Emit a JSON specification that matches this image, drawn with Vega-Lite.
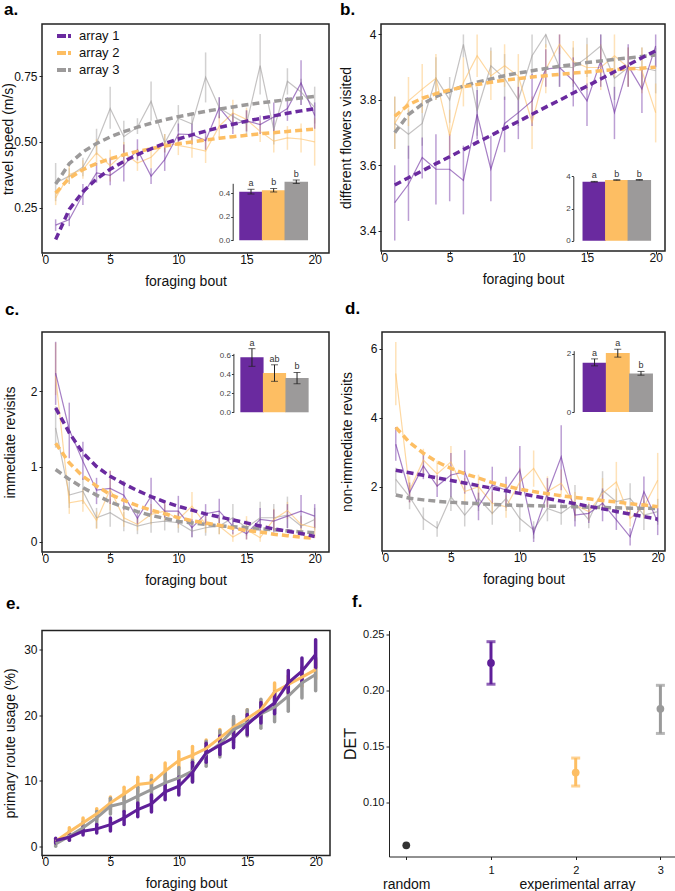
{
"$schema": "https://vega.github.io/schema/vega-lite/v6.json",
"background": "white",
"padding": {"left": 0, "top": 0, "right": 0, "bottom": 0},
"config": {
  "font": "Liberation Sans",
  "view": {"stroke": "#222", "strokeWidth": 1.5},
  "axis": {"grid": false, "domain": false, "tickSize": 3, "tickColor": "#222", "tickWidth": 1, "labelFontSize": 12, "labelColor": "#111", "titleFontSize": 14, "titleFontWeight": "normal", "titleColor": "#111", "titlePadding": 7},
  "axisX": {"labelPadding": -2, "titlePadding": 9},
  "axisY": {"labelPadding": 2},
  "title": {"anchor": "start"}
},
"resolve": {"scale": {"color": "independent"}},
"spacing": 4.5,
"vconcat": [
{
"spacing": 9,
"resolve": {"scale": {"color": "independent"}},
"vconcat": [
{
"hconcat": [
{
 "width": 287, "height": 229,
 "title": {"text": "a.", "anchor": "start", "frame": "group", "dx": -38, "fontSize": 17, "fontWeight": "bold", "offset": 5},
 "layer": [
  {
   "data": {"values": [
{"b":1,"g":"array 3","m":0.344,"lo":0.275,"hi":0.42,"f":0.34},
{"b":2,"g":"array 3","m":0.37,"lo":0.34,"hi":0.40,"f":0.417},
{"b":3,"g":"array 3","m":0.405,"lo":0.37,"hi":0.44,"f":0.462},
{"b":4,"g":"array 3","m":0.496,"lo":0.45,"hi":0.55,"f":0.494},
{"b":5,"g":"array 3","m":0.627,"lo":0.55,"hi":0.71,"f":0.519},
{"b":6,"g":"array 3","m":0.52,"lo":0.46,"hi":0.58,"f":0.539},
{"b":7,"g":"array 3","m":0.556,"lo":0.53,"hi":0.59,"f":0.556},
{"b":8,"g":"array 3","m":0.654,"lo":0.58,"hi":0.73,"f":0.571},
{"b":9,"g":"array 3","m":0.496,"lo":0.46,"hi":0.53,"f":0.584},
{"b":10,"g":"array 3","m":0.59,"lo":0.54,"hi":0.64,"f":0.596},
{"b":11,"g":"array 3","m":0.568,"lo":0.53,"hi":0.61,"f":0.606},
{"b":12,"g":"array 3","m":0.746,"lo":0.65,"hi":0.84,"f":0.616},
{"b":13,"g":"array 3","m":0.63,"lo":0.59,"hi":0.67,"f":0.625},
{"b":14,"g":"array 3","m":0.597,"lo":0.55,"hi":0.64,"f":0.633},
{"b":15,"g":"array 3","m":0.568,"lo":0.52,"hi":0.62,"f":0.641},
{"b":16,"g":"array 3","m":0.79,"lo":0.68,"hi":0.91,"f":0.648},
{"b":17,"g":"array 3","m":0.547,"lo":0.49,"hi":0.60,"f":0.654},
{"b":18,"g":"array 3","m":0.73,"lo":0.68,"hi":0.78,"f":0.661},
{"b":19,"g":"array 3","m":0.69,"lo":0.64,"hi":0.74,"f":0.667},
{"b":20,"g":"array 3","m":0.63,"lo":0.57,"hi":0.71,"f":0.673},
{"b":1,"g":"array 2","m":0.287,"lo":0.26,"hi":0.31,"f":0.306},
{"b":2,"g":"array 2","m":0.376,"lo":0.34,"hi":0.41,"f":0.362},
{"b":3,"g":"array 2","m":0.395,"lo":0.36,"hi":0.43,"f":0.395},
{"b":4,"g":"array 2","m":0.458,"lo":0.41,"hi":0.51,"f":0.418},
{"b":5,"g":"array 2","m":0.41,"lo":0.35,"hi":0.47,"f":0.436},
{"b":6,"g":"array 2","m":0.458,"lo":0.41,"hi":0.50,"f":0.451},
{"b":7,"g":"array 2","m":0.42,"lo":0.39,"hi":0.46,"f":0.464},
{"b":8,"g":"array 2","m":0.442,"lo":0.40,"hi":0.48,"f":0.474},
{"b":9,"g":"array 2","m":0.496,"lo":0.46,"hi":0.53,"f":0.484},
{"b":10,"g":"array 2","m":0.487,"lo":0.45,"hi":0.53,"f":0.493},
{"b":11,"g":"array 2","m":0.477,"lo":0.44,"hi":0.52,"f":0.50},
{"b":12,"g":"array 2","m":0.465,"lo":0.42,"hi":0.52,"f":0.507},
{"b":13,"g":"array 2","m":0.56,"lo":0.52,"hi":0.60,"f":0.514},
{"b":14,"g":"array 2","m":0.61,"lo":0.56,"hi":0.66,"f":0.52},
{"b":15,"g":"array 2","m":0.585,"lo":0.54,"hi":0.63,"f":0.525},
{"b":16,"g":"array 2","m":0.54,"lo":0.50,"hi":0.58,"f":0.531},
{"b":17,"g":"array 2","m":0.503,"lo":0.46,"hi":0.55,"f":0.535},
{"b":18,"g":"array 2","m":0.515,"lo":0.47,"hi":0.56,"f":0.54},
{"b":19,"g":"array 2","m":0.511,"lo":0.46,"hi":0.57,"f":0.544},
{"b":20,"g":"array 2","m":0.50,"lo":0.41,"hi":0.59,"f":0.549},
{"b":1,"g":"array 1","m":0.184,"lo":0.162,"hi":0.206,"f":0.129},
{"b":2,"g":"array 1","m":0.205,"lo":0.18,"hi":0.23,"f":0.244},
{"b":3,"g":"array 1","m":0.30,"lo":0.26,"hi":0.34,"f":0.311},
{"b":4,"g":"array 1","m":0.382,"lo":0.345,"hi":0.42,"f":0.359},
{"b":5,"g":"array 1","m":0.373,"lo":0.335,"hi":0.44,"f":0.396},
{"b":6,"g":"array 1","m":0.41,"lo":0.35,"hi":0.49,"f":0.426},
{"b":7,"g":"array 1","m":0.47,"lo":0.43,"hi":0.51,"f":0.452},
{"b":8,"g":"array 1","m":0.37,"lo":0.34,"hi":0.40,"f":0.474},
{"b":9,"g":"array 1","m":0.433,"lo":0.39,"hi":0.48,"f":0.494},
{"b":10,"g":"array 1","m":0.53,"lo":0.49,"hi":0.57,"f":0.511},
{"b":11,"g":"array 1","m":0.528,"lo":0.49,"hi":0.57,"f":0.527},
{"b":12,"g":"array 1","m":0.505,"lo":0.47,"hi":0.54,"f":0.541},
{"b":13,"g":"array 1","m":0.63,"lo":0.59,"hi":0.67,"f":0.555},
{"b":14,"g":"array 1","m":0.568,"lo":0.53,"hi":0.61,"f":0.567},
{"b":15,"g":"array 1","m":0.58,"lo":0.54,"hi":0.62,"f":0.579},
{"b":16,"g":"array 1","m":0.566,"lo":0.53,"hi":0.60,"f":0.589},
{"b":17,"g":"array 1","m":0.595,"lo":0.54,"hi":0.65,"f":0.599},
{"b":18,"g":"array 1","m":0.627,"lo":0.58,"hi":0.67,"f":0.609},
{"b":19,"g":"array 1","m":0.724,"lo":0.64,"hi":0.81,"f":0.618},
{"b":20,"g":"array 1","m":0.60,"lo":0.55,"hi":0.65,"f":0.626}
   ]},
   "encoding": {
     "x": {"field": "b", "type": "quantitative", "scale": {"domain": [0, 21.05], "nice": false, "zero": false}, "axis": {"values": [0,5,10,15,20], "title": "foraging bout"}},
     "color": {"field": "g", "type": "nominal", "scale": {"domain": ["array 1","array 2","array 3"], "range": ["#6a2a9f","#fdbe63","#9c9a9a"]}, "legend": {"title": null, "orient": "none", "legendX": 13, "legendY": 3, "symbolType": "stroke", "symbolStrokeWidth": 4, "symbolSize": 196, "symbolDash": [9, 2], "symbolOpacity": 1, "labelFontSize": 13, "labelOffset": 6, "rowPadding": -2.5, "padding": 0, "labelColor": "#111"}}
   },
   "layer": [
     {"mark": {"type": "rule", "opacity": 0.45, "strokeWidth": 1.5}, "encoding": {"y": {"field": "lo", "type": "quantitative", "scale": {"domain": [0.078, 0.948], "nice": false, "zero": false}, "axis": {"values": [0.25,0.5,0.75], "format": ".2f", "title": "travel speed (m/s)", "titlePadding": -2}}, "y2": {"field": "hi"}}},
     {"mark": {"type": "line", "opacity": 0.6, "strokeWidth": 1.2}, "encoding": {"y": {"field": "m", "type": "quantitative", "axis": {"values": [0.25,0.5,0.75], "format": ".2f", "title": "travel speed (m/s)", "titlePadding": -2}}}},
     {"mark": {"type": "line", "strokeDash": [7,4], "strokeWidth": 3.5}, "encoding": {"y": {"field": "f", "type": "quantitative", "axis": {"values": [0.25,0.5,0.75], "format": ".2f", "title": "travel speed (m/s)", "titlePadding": -2}}}}
   ]
  },
  {
   "data": {"values": [
     {"g":"array 1","i":1,"m":0.414,"lo":0.394,"hi":0.434,"t":"a"},
     {"g":"array 2","i":2,"m":0.426,"lo":0.411,"hi":0.441,"t":"b"},
     {"g":"array 3","i":3,"m":0.499,"lo":0.484,"hi":0.514,"t":"b"}]},
   "encoding": {"x": {"field": "i", "type": "quantitative", "scale": {"domain": [0.5,3.5], "range": [192.7,270.6], "nice": false, "zero": false}, "axis": null}},
   "layer": [
     {"data": {"values": [{}]}, "mark": {"type": "rect", "fill": "white", "stroke": "#222", "strokeWidth": 1.5},
      "encoding": {"x": {"datum": -0.375, "type": "quantitative", "axis": null}, "x2": {"datum": 3.63},
        "y": {"datum": -0.057, "type": "quantitative", "scale": {"domain": [0, 0.485], "range": [216.3, 159.3], "nice": false, "zero": false}, "axis": {"orient": "left", "offset": -190.7, "values": [0,0.2,0.4], "format": ".1f", "title": null, "labelFontSize": 8, "tickSize": 2, "labelPadding": 1, "domain": true, "domainColor": "#333", "domainWidth": 1, "tickColor": "#333", "labelColor": "#444"}},
        "y2": {"datum": 0.641}}},
     {"mark": {"type": "bar", "size": 23.5}, "encoding": {"y": {"field": "m", "type": "quantitative", "axis": {"orient": "left", "offset": -190.7, "values": [0,0.2,0.4], "format": ".1f", "title": null, "labelFontSize": 8, "tickSize": 2, "labelPadding": 1, "domain": true, "domainColor": "#333", "domainWidth": 1, "tickColor": "#333", "labelColor": "#444"}}, "y2": {"datum": 0}, "color": {"field": "g", "type": "nominal", "legend": {"title": null, "orient": "none", "legendX": 13, "legendY": 3, "symbolType": "stroke", "symbolStrokeWidth": 4, "symbolSize": 196, "symbolDash": [9, 2], "symbolOpacity": 1, "labelFontSize": 13, "labelOffset": 6, "rowPadding": -2.5, "padding": 0, "labelColor": "#111"}}}},
     {"mark": {"type": "errorbar", "ticks": true, "size": 7, "thickness": 1, "color": "#222"}, "encoding": {"y": {"field": "lo", "type": "quantitative", "axis": {"orient": "left", "offset": -190.7, "values": [0,0.2,0.4], "format": ".1f", "title": null, "labelFontSize": 8, "tickSize": 2, "labelPadding": 1, "domain": true, "domainColor": "#333", "domainWidth": 1, "tickColor": "#333", "labelColor": "#444"}}, "y2": {"field": "hi"}}},
     {"mark": {"type": "text", "fontSize": 9, "color": "#333", "baseline": "bottom", "dy": -1}, "encoding": {"y": {"field": "hi", "type": "quantitative", "axis": {"orient": "left", "offset": -190.7, "values": [0,0.2,0.4], "format": ".1f", "title": null, "labelFontSize": 8, "tickSize": 2, "labelPadding": 1, "domain": true, "domainColor": "#333", "domainWidth": 1, "tickColor": "#333", "labelColor": "#444"}}, "text": {"field": "t"}}}
   ]
  }
 ],
 "resolve": {"scale": {"x": "independent", "y": "independent"}}
},
{
 "width": 284, "height": 227,
 "title": {"text": "b.", "anchor": "start", "frame": "group", "dx": -41, "fontSize": 17, "fontWeight": "bold", "offset": 5},
 "layer": [
  {
   "data": {"values": [
{"b":1,"g":"array 3","m":3.728,"lo":3.65,"hi":3.81,"f":3.70},
{"b":2,"g":"array 3","m":3.695,"lo":3.62,"hi":3.77,"f":3.755},
{"b":3,"g":"array 3","m":3.728,"lo":3.66,"hi":3.80,"f":3.787},
{"b":4,"g":"array 3","m":3.866,"lo":3.80,"hi":3.93,"f":3.81},
{"b":5,"g":"array 3","m":3.80,"lo":3.73,"hi":3.87,"f":3.827},
{"b":6,"g":"array 3","m":3.97,"lo":3.93,"hi":4.0,"f":3.842},
{"b":7,"g":"array 3","m":3.766,"lo":3.69,"hi":3.84,"f":3.854},
{"b":8,"g":"array 3","m":3.904,"lo":3.85,"hi":3.96,"f":3.864},
{"b":9,"g":"array 3","m":3.866,"lo":3.80,"hi":3.94,"f":3.874},
{"b":10,"g":"array 3","m":3.80,"lo":3.72,"hi":3.87,"f":3.882},
{"b":11,"g":"array 3","m":3.935,"lo":3.87,"hi":4.0,"f":3.889},
{"b":12,"g":"array 3","m":4.0,"lo":3.96,"hi":4.0,"f":3.896},
{"b":13,"g":"array 3","m":3.899,"lo":3.84,"hi":3.96,"f":3.903},
{"b":14,"g":"array 3","m":3.899,"lo":3.84,"hi":3.96,"f":3.908},
{"b":15,"g":"array 3","m":3.93,"lo":3.87,"hi":3.99,"f":3.914},
{"b":16,"g":"array 3","m":3.965,"lo":3.92,"hi":4.0,"f":3.919},
{"b":17,"g":"array 3","m":3.866,"lo":3.80,"hi":3.93,"f":3.924},
{"b":18,"g":"array 3","m":3.899,"lo":3.84,"hi":3.96,"f":3.928},
{"b":19,"g":"array 3","m":3.899,"lo":3.84,"hi":3.96,"f":3.933},
{"b":20,"g":"array 3","m":3.889,"lo":3.82,"hi":3.96,"f":3.937},
{"b":1,"g":"array 2","m":3.728,"lo":3.65,"hi":3.81,"f":3.75},
{"b":2,"g":"array 2","m":3.797,"lo":3.72,"hi":3.87,"f":3.785},
{"b":3,"g":"array 2","m":3.833,"lo":3.76,"hi":3.91,"f":3.805},
{"b":4,"g":"array 2","m":3.866,"lo":3.80,"hi":3.94,"f":3.819},
{"b":5,"g":"array 2","m":3.69,"lo":3.62,"hi":3.77,"f":3.83},
{"b":6,"g":"array 2","m":3.853,"lo":3.78,"hi":3.93,"f":3.84},
{"b":7,"g":"array 2","m":3.935,"lo":3.87,"hi":4.0,"f":3.847},
{"b":8,"g":"array 2","m":3.873,"lo":3.80,"hi":3.95,"f":3.854},
{"b":9,"g":"array 2","m":3.904,"lo":3.84,"hi":3.97,"f":3.86},
{"b":10,"g":"array 2","m":3.873,"lo":3.80,"hi":3.94,"f":3.865},
{"b":11,"g":"array 2","m":3.731,"lo":3.65,"hi":3.81,"f":3.87},
{"b":12,"g":"array 2","m":3.894,"lo":3.82,"hi":3.97,"f":3.874},
{"b":13,"g":"array 2","m":3.97,"lo":3.94,"hi":4.0,"f":3.878},
{"b":14,"g":"array 2","m":3.917,"lo":3.85,"hi":3.98,"f":3.882},
{"b":15,"g":"array 2","m":3.899,"lo":3.83,"hi":3.97,"f":3.885},
{"b":16,"g":"array 2","m":3.899,"lo":3.83,"hi":3.97,"f":3.889},
{"b":17,"g":"array 2","m":3.935,"lo":3.87,"hi":4.0,"f":3.892},
{"b":18,"g":"array 2","m":3.899,"lo":3.84,"hi":3.96,"f":3.895},
{"b":19,"g":"array 2","m":3.889,"lo":3.82,"hi":3.96,"f":3.897},
{"b":20,"g":"array 2","m":3.761,"lo":3.67,"hi":3.85,"f":3.90},
{"b":1,"g":"array 1","m":3.486,"lo":3.37,"hi":3.60,"f":3.54},
{"b":2,"g":"array 1","m":3.542,"lo":3.43,"hi":3.66,"f":3.562},
{"b":3,"g":"array 1","m":3.624,"lo":3.56,"hi":3.685,"f":3.583},
{"b":4,"g":"array 1","m":3.588,"lo":3.48,"hi":3.695,"f":3.605},
{"b":5,"g":"array 1","m":3.588,"lo":3.49,"hi":3.695,"f":3.626},
{"b":6,"g":"array 1","m":3.554,"lo":3.45,"hi":3.66,"f":3.648},
{"b":7,"g":"array 1","m":3.756,"lo":3.68,"hi":3.83,"f":3.67},
{"b":8,"g":"array 1","m":3.588,"lo":3.49,"hi":3.69,"f":3.691},
{"b":9,"g":"array 1","m":3.728,"lo":3.64,"hi":3.81,"f":3.713},
{"b":10,"g":"array 1","m":3.761,"lo":3.68,"hi":3.84,"f":3.734},
{"b":11,"g":"array 1","m":3.797,"lo":3.72,"hi":3.88,"f":3.756},
{"b":12,"g":"array 1","m":3.894,"lo":3.84,"hi":3.955,"f":3.778},
{"b":13,"g":"array 1","m":3.899,"lo":3.84,"hi":4.0,"f":3.799},
{"b":14,"g":"array 1","m":3.858,"lo":3.78,"hi":3.93,"f":3.821},
{"b":15,"g":"array 1","m":3.797,"lo":3.72,"hi":3.85,"f":3.842},
{"b":16,"g":"array 1","m":3.919,"lo":3.84,"hi":4.0,"f":3.864},
{"b":17,"g":"array 1","m":3.761,"lo":3.68,"hi":3.84,"f":3.886},
{"b":18,"g":"array 1","m":3.904,"lo":3.84,"hi":3.97,"f":3.907},
{"b":19,"g":"array 1","m":3.833,"lo":3.76,"hi":3.90,"f":3.929},
{"b":20,"g":"array 1","m":3.965,"lo":3.90,"hi":4.0,"f":3.95}
   ]},
   "encoding": {
     "x": {"field": "b", "type": "quantitative", "scale": {"domain": [0, 20.68], "nice": false, "zero": false}, "axis": {"values": [0,5,10,15,20], "title": "foraging bout"}},
     "color": {"field": "g", "type": "nominal", "scale": {"domain": ["array 1","array 2","array 3"], "range": ["#6a2a9f","#fdbe63","#9c9a9a"]}, "legend": null}
   },
   "layer": [
     {"mark": {"type": "rule", "opacity": 0.45, "strokeWidth": 1.5}, "encoding": {"y": {"field": "lo", "type": "quantitative", "scale": {"domain": [3.338, 4.032], "nice": false, "zero": false}, "axis": {"values": [3.4,3.6,3.8,4], "format": "~g", "title": "different flowers visited", "titlePadding": 6}}, "y2": {"field": "hi"}}},
     {"mark": {"type": "line", "opacity": 0.6, "strokeWidth": 1.2}, "encoding": {"y": {"field": "m", "type": "quantitative", "axis": {"values": [3.4,3.6,3.8,4], "format": "~g", "title": "different flowers visited", "titlePadding": 6}}}},
     {"mark": {"type": "line", "strokeDash": [7,4], "strokeWidth": 3.5}, "encoding": {"y": {"field": "f", "type": "quantitative", "axis": {"values": [3.4,3.6,3.8,4], "format": "~g", "title": "different flowers visited", "titlePadding": 6}}}}
   ]
  },
  {
   "data": {"values": [
     {"g":"array 1","i":1,"m":3.67,"lo":3.65,"hi":3.69,"t":"a"},
     {"g":"array 2","i":2,"m":3.775,"lo":3.755,"hi":3.795,"t":"b"},
     {"g":"array 3","i":3,"m":3.78,"lo":3.76,"hi":3.80,"t":"b"}]},
   "encoding": {"x": {"field": "i", "type": "quantitative", "scale": {"domain": [0.5,3.5], "range": [197.0,274.6], "nice": false, "zero": false}, "axis": null}},
   "layer": [
     {"data": {"values": [{}]}, "mark": {"type": "rect", "fill": "white", "stroke": "#222", "strokeWidth": 1.5},
      "encoding": {"x": {"datum": -0.416, "type": "quantitative", "axis": null}, "x2": {"datum": 3.604},
        "y": {"datum": -0.417, "type": "quantitative", "scale": {"domain": [0, 4], "range": [216.7, 152.4], "nice": false, "zero": false}, "axis": {"orient": "left", "offset": -192.3, "values": [0,2,4], "format": "d", "title": null, "labelFontSize": 8, "tickSize": 2, "labelPadding": 1, "domain": true, "domainColor": "#333", "domainWidth": 1, "tickColor": "#333", "labelColor": "#444"}},
        "y2": {"datum": 4.664}}},
     {"mark": {"type": "bar", "size": 23.5}, "encoding": {"y": {"field": "m", "type": "quantitative", "axis": {"orient": "left", "offset": -192.3, "values": [0,2,4], "format": "d", "title": null, "labelFontSize": 8, "tickSize": 2, "labelPadding": 1, "domain": true, "domainColor": "#333", "domainWidth": 1, "tickColor": "#333", "labelColor": "#444"}}, "y2": {"datum": 0}, "color": {"field": "g", "type": "nominal", "legend": null}}},
     {"mark": {"type": "errorbar", "ticks": true, "size": 7, "thickness": 1, "color": "#222"}, "encoding": {"y": {"field": "lo", "type": "quantitative", "axis": {"orient": "left", "offset": -192.3, "values": [0,2,4], "format": "d", "title": null, "labelFontSize": 8, "tickSize": 2, "labelPadding": 1, "domain": true, "domainColor": "#333", "domainWidth": 1, "tickColor": "#333", "labelColor": "#444"}}, "y2": {"field": "hi"}}},
     {"mark": {"type": "text", "fontSize": 9, "color": "#333", "baseline": "bottom", "dy": -1}, "encoding": {"y": {"field": "hi", "type": "quantitative", "axis": {"orient": "left", "offset": -192.3, "values": [0,2,4], "format": "d", "title": null, "labelFontSize": 8, "tickSize": 2, "labelPadding": 1, "domain": true, "domainColor": "#333", "domainWidth": 1, "tickColor": "#333", "labelColor": "#444"}}, "text": {"field": "t"}}}
   ]
  }
 ],
 "resolve": {"scale": {"x": "independent", "y": "independent"}}
}
],
"spacing": 8,
"resolve": {"scale": {"color": "independent"}}
},
{
"hconcat": [
{
 "width": 287, "height": 220,
 "title": {"text": "c.", "anchor": "start", "frame": "group", "dx": -37, "fontSize": 17, "fontWeight": "bold", "offset": 13.5},
 "layer": [
  {
   "data": {"values": [
{"b":1,"g":"array 3","m":1.513,"lo":1.25,"hi":1.80,"f":0.96},
{"b":2,"g":"array 3","m":0.62,"lo":0.45,"hi":0.80,"f":0.83},
{"b":3,"g":"array 3","m":0.673,"lo":0.50,"hi":0.85,"f":0.72},
{"b":4,"g":"array 3","m":0.319,"lo":0.18,"hi":0.45,"f":0.62},
{"b":5,"g":"array 3","m":0.385,"lo":0.20,"hi":0.57,"f":0.53},
{"b":6,"g":"array 3","m":0.274,"lo":0.14,"hi":0.40,"f":0.46},
{"b":7,"g":"array 3","m":0.208,"lo":0.10,"hi":0.31,"f":0.40},
{"b":8,"g":"array 3","m":0.252,"lo":0.12,"hi":0.39,"f":0.35},
{"b":9,"g":"array 3","m":0.274,"lo":0.15,"hi":0.40,"f":0.31},
{"b":10,"g":"array 3","m":0.252,"lo":0.12,"hi":0.38,"f":0.27},
{"b":11,"g":"array 3","m":0.142,"lo":0.06,"hi":0.23,"f":0.25},
{"b":12,"g":"array 3","m":0.186,"lo":0.08,"hi":0.30,"f":0.23},
{"b":13,"g":"array 3","m":0.208,"lo":0.10,"hi":0.32,"f":0.21},
{"b":14,"g":"array 3","m":0.319,"lo":0.14,"hi":0.50,"f":0.20},
{"b":15,"g":"array 3","m":0.186,"lo":0.08,"hi":0.29,"f":0.186},
{"b":16,"g":"array 3","m":0.319,"lo":0.15,"hi":0.53,"f":0.17},
{"b":17,"g":"array 3","m":0.319,"lo":0.15,"hi":0.50,"f":0.16},
{"b":18,"g":"array 3","m":0.354,"lo":0.18,"hi":0.60,"f":0.145},
{"b":19,"g":"array 3","m":0.208,"lo":0.08,"hi":0.35,"f":0.13},
{"b":20,"g":"array 3","m":0.296,"lo":0.15,"hi":0.45,"f":0.12},
{"b":1,"g":"array 2","m":2.20,"lo":1.95,"hi":2.65,"f":1.31},
{"b":2,"g":"array 2","m":0.518,"lo":0.37,"hi":0.68,"f":1.05},
{"b":3,"g":"array 2","m":0.549,"lo":0.40,"hi":0.70,"f":0.87},
{"b":4,"g":"array 2","m":0.283,"lo":0.17,"hi":0.40,"f":0.74},
{"b":5,"g":"array 2","m":0.695,"lo":0.42,"hi":0.95,"f":0.63},
{"b":6,"g":"array 2","m":0.319,"lo":0.20,"hi":0.44,"f":0.55},
{"b":7,"g":"array 2","m":0.23,"lo":0.15,"hi":0.31,"f":0.48},
{"b":8,"g":"array 2","m":0.363,"lo":0.23,"hi":0.50,"f":0.42},
{"b":9,"g":"array 2","m":0.407,"lo":0.28,"hi":0.53,"f":0.37},
{"b":10,"g":"array 2","m":0.296,"lo":0.18,"hi":0.41,"f":0.32},
{"b":11,"g":"array 2","m":0.473,"lo":0.23,"hi":0.66,"f":0.28},
{"b":12,"g":"array 2","m":0.23,"lo":0.12,"hi":0.34,"f":0.25},
{"b":13,"g":"array 2","m":0.208,"lo":0.10,"hi":0.32,"f":0.22},
{"b":14,"g":"array 2","m":0.062,"lo":0.0,"hi":0.13,"f":0.18},
{"b":15,"g":"array 2","m":0.164,"lo":0.03,"hi":0.34,"f":0.15},
{"b":16,"g":"array 2","m":0.053,"lo":0.0,"hi":0.14,"f":0.13},
{"b":17,"g":"array 2","m":0.296,"lo":0.15,"hi":0.44,"f":0.10},
{"b":18,"g":"array 2","m":0.416,"lo":0.30,"hi":0.53,"f":0.08},
{"b":19,"g":"array 2","m":0.23,"lo":0.12,"hi":0.34,"f":0.06},
{"b":20,"g":"array 2","m":0.186,"lo":0.05,"hi":0.32,"f":0.044},
{"b":1,"g":"array 1","m":2.243,"lo":1.82,"hi":2.66,"f":1.78},
{"b":2,"g":"array 1","m":1.49,"lo":1.11,"hi":1.85,"f":1.45},
{"b":3,"g":"array 1","m":1.07,"lo":0.82,"hi":1.33,"f":1.18},
{"b":4,"g":"array 1","m":0.686,"lo":0.50,"hi":0.85,"f":1.0},
{"b":5,"g":"array 1","m":0.708,"lo":0.50,"hi":0.94,"f":0.87},
{"b":6,"g":"array 1","m":0.62,"lo":0.42,"hi":0.81,"f":0.77},
{"b":7,"g":"array 1","m":0.31,"lo":0.23,"hi":0.40,"f":0.68},
{"b":8,"g":"array 1","m":0.606,"lo":0.36,"hi":0.85,"f":0.60},
{"b":9,"g":"array 1","m":0.407,"lo":0.32,"hi":0.50,"f":0.53},
{"b":10,"g":"array 1","m":0.407,"lo":0.23,"hi":0.61,"f":0.47},
{"b":11,"g":"array 1","m":0.186,"lo":0.06,"hi":0.30,"f":0.42},
{"b":12,"g":"array 1","m":0.372,"lo":0.22,"hi":0.50,"f":0.37},
{"b":13,"g":"array 1","m":0.407,"lo":0.25,"hi":0.57,"f":0.33},
{"b":14,"g":"array 1","m":0.208,"lo":0.10,"hi":0.32,"f":0.29},
{"b":15,"g":"array 1","m":0.106,"lo":0.03,"hi":0.18,"f":0.25},
{"b":16,"g":"array 1","m":0.296,"lo":0.14,"hi":0.45,"f":0.21},
{"b":17,"g":"array 1","m":0.274,"lo":0.12,"hi":0.43,"f":0.17},
{"b":18,"g":"array 1","m":0.341,"lo":0.18,"hi":0.50,"f":0.14},
{"b":19,"g":"array 1","m":0.407,"lo":0.18,"hi":0.62,"f":0.11},
{"b":20,"g":"array 1","m":0.341,"lo":0.18,"hi":0.50,"f":0.07}
   ]},
   "encoding": {
     "x": {"field": "b", "type": "quantitative", "scale": {"domain": [0, 21.05], "nice": false, "zero": false}, "axis": {"values": [0,5,10,15,20], "title": "foraging bout"}},
     "color": {"field": "g", "type": "nominal", "scale": {"domain": ["array 1","array 2","array 3"], "range": ["#6a2a9f","#fdbe63","#9c9a9a"]}, "legend": null}
   },
   "layer": [
     {"mark": {"type": "rule", "opacity": 0.45, "strokeWidth": 1.5}, "encoding": {"y": {"field": "lo", "type": "quantitative", "scale": {"domain": [-0.137, 2.79], "nice": false, "zero": false}, "axis": {"values": [0,1,2], "title": "immediate revisits", "titlePadding": 13}}, "y2": {"field": "hi"}}},
     {"mark": {"type": "line", "opacity": 0.6, "strokeWidth": 1.2}, "encoding": {"y": {"field": "m", "type": "quantitative", "axis": {"values": [0,1,2], "title": "immediate revisits", "titlePadding": 13}}}},
     {"mark": {"type": "line", "strokeDash": [7,4], "strokeWidth": 3.5}, "encoding": {"y": {"field": "f", "type": "quantitative", "axis": {"values": [0,1,2], "title": "immediate revisits", "titlePadding": 13}}}}
   ]
  },
  {
   "data": {"values": [
     {"g":"array 1","i":1,"m":0.579,"lo":0.484,"hi":0.67,"t":"a"},
     {"g":"array 2","i":2,"m":0.414,"lo":0.326,"hi":0.50,"t":"ab"},
     {"g":"array 3","i":3,"m":0.361,"lo":0.30,"hi":0.42,"t":"b"}]},
   "encoding": {"x": {"field": "i", "type": "quantitative", "scale": {"domain": [0.5,3.5], "range": [193.7,271.3], "nice": false, "zero": false}, "axis": null}},
   "layer": [
     {"data": {"values": [{}]}, "mark": {"type": "rect", "fill": "white", "stroke": "#222", "strokeWidth": 1.5},
      "encoding": {"x": {"datum": -0.416, "type": "quantitative", "axis": null}, "x2": {"datum": 3.643},
        "y": {"datum": -0.066, "type": "quantitative", "scale": {"domain": [0, 0.62], "range": [80.3, 21.4], "nice": false, "zero": false}, "axis": {"orient": "left", "offset": -191.4, "values": [0,0.2,0.4,0.6], "format": ".1f", "title": null, "labelFontSize": 8, "tickSize": 2, "labelPadding": 1, "domain": true, "domainColor": "#333", "domainWidth": 1, "tickColor": "#333", "labelColor": "#444"}},
        "y2": {"datum": 0.789}}},
     {"mark": {"type": "bar", "size": 23.2}, "encoding": {"y": {"field": "m", "type": "quantitative", "axis": {"orient": "left", "offset": -191.4, "values": [0,0.2,0.4,0.6], "format": ".1f", "title": null, "labelFontSize": 8, "tickSize": 2, "labelPadding": 1, "domain": true, "domainColor": "#333", "domainWidth": 1, "tickColor": "#333", "labelColor": "#444"}}, "y2": {"datum": 0}, "color": {"field": "g", "type": "nominal", "legend": null}}},
     {"mark": {"type": "errorbar", "ticks": true, "size": 7, "thickness": 1, "color": "#222"}, "encoding": {"y": {"field": "lo", "type": "quantitative", "axis": {"orient": "left", "offset": -191.4, "values": [0,0.2,0.4,0.6], "format": ".1f", "title": null, "labelFontSize": 8, "tickSize": 2, "labelPadding": 1, "domain": true, "domainColor": "#333", "domainWidth": 1, "tickColor": "#333", "labelColor": "#444"}}, "y2": {"field": "hi"}}},
     {"mark": {"type": "text", "fontSize": 9, "color": "#333", "baseline": "bottom", "dy": -1}, "encoding": {"y": {"field": "hi", "type": "quantitative", "axis": {"orient": "left", "offset": -191.4, "values": [0,0.2,0.4,0.6], "format": ".1f", "title": null, "labelFontSize": 8, "tickSize": 2, "labelPadding": 1, "domain": true, "domainColor": "#333", "domainWidth": 1, "tickColor": "#333", "labelColor": "#444"}}, "text": {"field": "t"}}}
   ]
  }
 ],
 "resolve": {"scale": {"x": "independent", "y": "independent"}}
},
{
 "width": 283, "height": 219,
 "title": {"text": "d.", "anchor": "start", "frame": "group", "dx": -37, "fontSize": 17, "fontWeight": "bold", "offset": 14.5},
 "layer": [
  {
   "data": {"values": [
{"b":1,"g":"array 3","m":2.21,"lo":1.80,"hi":2.55,"f":1.76},
{"b":2,"g":"array 3","m":1.71,"lo":1.35,"hi":2.05,"f":1.67},
{"b":3,"g":"array 3","m":1.08,"lo":0.75,"hi":1.40,"f":1.62},
{"b":4,"g":"array 3","m":0.80,"lo":0.55,"hi":1.00,"f":1.58},
{"b":5,"g":"array 3","m":1.71,"lo":1.30,"hi":2.10,"f":1.55},
{"b":6,"g":"array 3","m":1.18,"lo":0.85,"hi":1.50,"f":1.53},
{"b":7,"g":"array 3","m":1.66,"lo":1.30,"hi":2.00,"f":1.51},
{"b":8,"g":"array 3","m":1.23,"lo":0.90,"hi":1.55,"f":1.49},
{"b":9,"g":"array 3","m":1.66,"lo":1.30,"hi":2.00,"f":1.47},
{"b":10,"g":"array 3","m":1.08,"lo":0.70,"hi":1.45,"f":1.46},
{"b":11,"g":"array 3","m":0.75,"lo":0.50,"hi":1.00,"f":1.45},
{"b":12,"g":"array 3","m":1.37,"lo":1.00,"hi":1.75,"f":1.44},
{"b":13,"g":"array 3","m":1.23,"lo":0.90,"hi":1.55,"f":1.43},
{"b":14,"g":"array 3","m":1.52,"lo":1.00,"hi":2.05,"f":1.42},
{"b":15,"g":"array 3","m":1.04,"lo":0.80,"hi":1.30,"f":1.41},
{"b":16,"g":"array 3","m":1.90,"lo":1.35,"hi":2.45,"f":1.40},
{"b":17,"g":"array 3","m":1.57,"lo":1.20,"hi":1.95,"f":1.39},
{"b":18,"g":"array 3","m":1.66,"lo":1.20,"hi":2.10,"f":1.38},
{"b":19,"g":"array 3","m":1.18,"lo":0.75,"hi":1.60,"f":1.38},
{"b":20,"g":"array 3","m":1.28,"lo":0.90,"hi":1.65,"f":1.37},
{"b":1,"g":"array 2","m":5.28,"lo":4.36,"hi":6.19,"f":3.72},
{"b":2,"g":"array 2","m":1.90,"lo":1.55,"hi":2.30,"f":3.28},
{"b":3,"g":"array 2","m":2.77,"lo":2.40,"hi":3.10,"f":2.97},
{"b":4,"g":"array 2","m":2.37,"lo":2.00,"hi":2.75,"f":2.72},
{"b":5,"g":"array 2","m":2.72,"lo":2.20,"hi":3.18,"f":2.53},
{"b":6,"g":"array 2","m":1.86,"lo":1.50,"hi":2.25,"f":2.38},
{"b":7,"g":"array 2","m":2.00,"lo":1.65,"hi":2.35,"f":2.25},
{"b":8,"g":"array 2","m":1.52,"lo":1.20,"hi":1.85,"f":2.12},
{"b":9,"g":"array 2","m":1.42,"lo":1.10,"hi":1.75,"f":2.02},
{"b":10,"g":"array 2","m":2.14,"lo":1.75,"hi":2.55,"f":1.93},
{"b":11,"g":"array 2","m":2.53,"lo":2.00,"hi":3.05,"f":1.86},
{"b":12,"g":"array 2","m":1.86,"lo":1.40,"hi":2.30,"f":1.80},
{"b":13,"g":"array 2","m":2.10,"lo":1.70,"hi":2.50,"f":1.74},
{"b":14,"g":"array 2","m":1.47,"lo":1.10,"hi":1.85,"f":1.69},
{"b":15,"g":"array 2","m":1.28,"lo":1.00,"hi":1.55,"f":1.65},
{"b":16,"g":"array 2","m":1.81,"lo":1.40,"hi":2.25,"f":1.60},
{"b":17,"g":"array 2","m":2.14,"lo":1.60,"hi":2.72,"f":1.56},
{"b":18,"g":"array 2","m":1.08,"lo":0.85,"hi":1.35,"f":1.51},
{"b":19,"g":"array 2","m":1.42,"lo":1.10,"hi":1.75,"f":1.47},
{"b":20,"g":"array 2","m":2.19,"lo":1.40,"hi":2.98,"f":1.42},
{"b":1,"g":"array 1","m":3.23,"lo":2.75,"hi":3.73,"f":2.48},
{"b":2,"g":"array 1","m":1.83,"lo":1.55,"hi":2.12,"f":2.405},
{"b":3,"g":"array 1","m":2.60,"lo":2.22,"hi":2.98,"f":2.331},
{"b":4,"g":"array 1","m":2.02,"lo":1.70,"hi":2.33,"f":2.256},
{"b":5,"g":"array 1","m":2.34,"lo":1.70,"hi":2.98,"f":2.181},
{"b":6,"g":"array 1","m":2.43,"lo":1.80,"hi":3.06,"f":2.107},
{"b":7,"g":"array 1","m":1.44,"lo":1.03,"hi":1.83,"f":2.032},
{"b":8,"g":"array 1","m":2.05,"lo":1.52,"hi":2.58,"f":1.957},
{"b":9,"g":"array 1","m":1.90,"lo":1.40,"hi":2.29,"f":1.882},
{"b":10,"g":"array 1","m":2.48,"lo":1.83,"hi":3.18,"f":1.808},
{"b":11,"g":"array 1","m":0.65,"lo":0.40,"hi":0.85,"f":1.733},
{"b":12,"g":"array 1","m":1.81,"lo":1.40,"hi":2.25,"f":1.658},
{"b":13,"g":"array 1","m":2.87,"lo":1.90,"hi":3.78,"f":1.584},
{"b":14,"g":"array 1","m":1.18,"lo":0.85,"hi":1.55,"f":1.509},
{"b":15,"g":"array 1","m":1.23,"lo":0.95,"hi":1.50,"f":1.434},
{"b":16,"g":"array 1","m":1.52,"lo":1.00,"hi":1.95,"f":1.36},
{"b":17,"g":"array 1","m":1.04,"lo":0.75,"hi":1.35,"f":1.285},
{"b":18,"g":"array 1","m":0.55,"lo":0.30,"hi":0.80,"f":1.21},
{"b":19,"g":"array 1","m":1.86,"lo":1.40,"hi":2.30,"f":1.135},
{"b":20,"g":"array 1","m":0.99,"lo":0.60,"hi":1.38,"f":1.061}
   ]},
   "encoding": {
     "x": {"field": "b", "type": "quantitative", "scale": {"domain": [0, 20.53], "nice": false, "zero": false}, "axis": {"values": [0,5,10,15,20], "title": "foraging bout"}},
     "color": {"field": "g", "type": "nominal", "scale": {"domain": ["array 1","array 2","array 3"], "range": ["#6a2a9f","#fdbe63","#9c9a9a"]}, "legend": null}
   },
   "layer": [
     {"mark": {"type": "rule", "opacity": 0.45, "strokeWidth": 1.5}, "encoding": {"y": {"field": "lo", "type": "quantitative", "scale": {"domain": [0.14, 6.48], "nice": false, "zero": false}, "axis": {"values": [2,4,6], "title": "non-immediate revisits", "titlePadding": 16}}, "y2": {"field": "hi"}}},
     {"mark": {"type": "line", "opacity": 0.6, "strokeWidth": 1.2}, "encoding": {"y": {"field": "m", "type": "quantitative", "axis": {"values": [2,4,6], "title": "non-immediate revisits", "titlePadding": 16}}}},
     {"mark": {"type": "line", "strokeDash": [7,4], "strokeWidth": 3.5}, "encoding": {"y": {"field": "f", "type": "quantitative", "axis": {"values": [2,4,6], "title": "non-immediate revisits", "titlePadding": 16}}}}
   ]
  },
  {
   "data": {"values": [
     {"g":"array 1","i":1,"m":1.69,"lo":1.58,"hi":1.82,"t":"a"},
     {"g":"array 2","i":2,"m":2.02,"lo":1.88,"hi":2.15,"t":"a"},
     {"g":"array 3","i":3,"m":1.32,"lo":1.26,"hi":1.39,"t":"b"}]},
   "encoding": {"x": {"field": "i", "type": "quantitative", "scale": {"domain": [0.5,3.5], "range": [195.97,275.6], "nice": false, "zero": false}, "axis": null}},
   "layer": [
     {"data": {"values": [{}]}, "mark": {"type": "rect", "fill": "white", "stroke": "#222", "strokeWidth": 1.5},
      "encoding": {"x": {"datum": -0.354, "type": "quantitative", "axis": null}, "x2": {"datum": 3.541},
        "y": {"datum": -0.226, "type": "quantitative", "scale": {"domain": [0, 2.1], "range": [80, 18.7], "nice": false, "zero": false}, "axis": {"orient": "left", "offset": -191.7, "values": [0,1,2], "format": "d", "title": null, "labelFontSize": 8, "tickSize": 2, "labelPadding": 1, "domain": true, "domainColor": "#333", "domainWidth": 1, "tickColor": "#333", "labelColor": "#444"}},
        "y2": {"datum": 2.595}}},
     {"mark": {"type": "bar", "size": 23.9}, "encoding": {"y": {"field": "m", "type": "quantitative", "axis": {"orient": "left", "offset": -191.7, "values": [0,1,2], "format": "d", "title": null, "labelFontSize": 8, "tickSize": 2, "labelPadding": 1, "domain": true, "domainColor": "#333", "domainWidth": 1, "tickColor": "#333", "labelColor": "#444"}}, "y2": {"datum": 0}, "color": {"field": "g", "type": "nominal", "legend": null}}},
     {"mark": {"type": "errorbar", "ticks": true, "size": 7, "thickness": 1, "color": "#222"}, "encoding": {"y": {"field": "lo", "type": "quantitative", "axis": {"orient": "left", "offset": -191.7, "values": [0,1,2], "format": "d", "title": null, "labelFontSize": 8, "tickSize": 2, "labelPadding": 1, "domain": true, "domainColor": "#333", "domainWidth": 1, "tickColor": "#333", "labelColor": "#444"}}, "y2": {"field": "hi"}}},
     {"mark": {"type": "text", "fontSize": 9, "color": "#333", "baseline": "bottom", "dy": -1}, "encoding": {"y": {"field": "hi", "type": "quantitative", "axis": {"orient": "left", "offset": -191.7, "values": [0,1,2], "format": "d", "title": null, "labelFontSize": 8, "tickSize": 2, "labelPadding": 1, "domain": true, "domainColor": "#333", "domainWidth": 1, "tickColor": "#333", "labelColor": "#444"}}, "text": {"field": "t"}}}
   ]
  }
 ],
 "resolve": {"scale": {"x": "independent", "y": "independent"}}
}
],
"spacing": 9,
"resolve": {"scale": {"color": "independent"}}
}
]
},
{
"hconcat": [
{
 "width": 288, "height": 225,
 "title": {"text": "e.", "anchor": "start", "frame": "group", "dx": -36, "fontSize": 17, "fontWeight": "bold", "offset": 17.5},
 "data": {"values": [
{"b":1,"g":"array 2","m":0.76,"lo":0.4,"hi":1.1},
{"b":2,"g":"array 2","m":2.19,"lo":1.6,"hi":2.8},
{"b":3,"g":"array 2","m":3.56,"lo":2.8,"hi":4.3},
{"b":4,"g":"array 2","m":4.93,"lo":4.1,"hi":5.7},
{"b":5,"g":"array 2","m":6.61,"lo":5.6,"hi":7.5},
{"b":6,"g":"array 2","m":7.98,"lo":7.0,"hi":9.0},
{"b":7,"g":"array 2","m":9.41,"lo":8.3,"hi":10.5},
{"b":8,"g":"array 2","m":9.66,"lo":8.5,"hi":10.8},
{"b":9,"g":"array 2","m":11.44,"lo":10.2,"hi":12.7},
{"b":10,"g":"array 2","m":13.07,"lo":11.8,"hi":14.4},
{"b":11,"g":"array 2","m":13.88,"lo":12.6,"hi":15.2},
{"b":12,"g":"array 2","m":14.9,"lo":13.7,"hi":16.2},
{"b":13,"g":"array 2","m":16.52,"lo":15.3,"hi":17.8},
{"b":14,"g":"array 2","m":18.15,"lo":16.9,"hi":19.4},
{"b":15,"g":"array 2","m":19.47,"lo":18.2,"hi":20.8},
{"b":16,"g":"array 2","m":20.84,"lo":19.6,"hi":22.1},
{"b":17,"g":"array 2","m":23.54,"lo":22.2,"hi":24.9},
{"b":18,"g":"array 2","m":24.66,"lo":23.3,"hi":26.0},
{"b":19,"g":"array 2","m":25.78,"lo":24.4,"hi":27.2},
{"b":20,"g":"array 2","m":26.94,"lo":25.5,"hi":28.4},
{"b":1,"g":"array 3","m":0.36,"lo":0.0,"hi":0.8},
{"b":2,"g":"array 3","m":1.53,"lo":0.9,"hi":2.2},
{"b":3,"g":"array 3","m":2.8,"lo":2.0,"hi":3.6},
{"b":4,"g":"array 3","m":4.32,"lo":3.3,"hi":5.3},
{"b":5,"g":"array 3","m":6.1,"lo":4.9,"hi":7.3},
{"b":6,"g":"array 3","m":6.61,"lo":5.3,"hi":7.9},
{"b":7,"g":"array 3","m":7.63,"lo":6.2,"hi":9.0},
{"b":8,"g":"array 3","m":8.64,"lo":7.2,"hi":10.1},
{"b":9,"g":"array 3","m":9.66,"lo":8.1,"hi":11.2},
{"b":10,"g":"array 3","m":10.42,"lo":8.8,"hi":12.0},
{"b":11,"g":"array 3","m":11.44,"lo":9.8,"hi":13.1},
{"b":12,"g":"array 3","m":14.08,"lo":12.2,"hi":16.0},
{"b":13,"g":"array 3","m":15.61,"lo":13.6,"hi":17.6},
{"b":14,"g":"array 3","m":17.79,"lo":15.8,"hi":19.8},
{"b":15,"g":"array 3","m":18.81,"lo":16.8,"hi":20.8},
{"b":16,"g":"array 3","m":20.18,"lo":18.0,"hi":22.4},
{"b":17,"g":"array 3","m":21.2,"lo":19.0,"hi":23.4},
{"b":18,"g":"array 3","m":22.88,"lo":20.6,"hi":25.2},
{"b":19,"g":"array 3","m":24.91,"lo":22.6,"hi":27.2},
{"b":20,"g":"array 3","m":26.18,"lo":23.7,"hi":28.7},
{"b":1,"g":"array 1","m":0.86,"lo":0.5,"hi":1.2},
{"b":2,"g":"array 1","m":1.37,"lo":0.9,"hi":1.8},
{"b":3,"g":"array 1","m":2.29,"lo":1.7,"hi":2.9},
{"b":4,"g":"array 1","m":2.64,"lo":2.0,"hi":3.3},
{"b":5,"g":"array 1","m":3.30,"lo":2.3,"hi":4.3},
{"b":6,"g":"array 1","m":4.32,"lo":3.3,"hi":5.3},
{"b":7,"g":"array 1","m":5.59,"lo":4.5,"hi":6.6},
{"b":8,"g":"array 1","m":6.46,"lo":5.2,"hi":7.8},
{"b":9,"g":"array 1","m":8.29,"lo":7.1,"hi":9.5},
{"b":10,"g":"array 1","m":9.15,"lo":7.8,"hi":10.5},
{"b":11,"g":"array 1","m":11.29,"lo":9.8,"hi":12.8},
{"b":12,"g":"array 1","m":14.24,"lo":12.8,"hi":15.7},
{"b":13,"g":"array 1","m":15.4,"lo":14.0,"hi":16.8},
{"b":14,"g":"array 1","m":16.52,"lo":15.0,"hi":18.0},
{"b":15,"g":"array 1","m":18.56,"lo":17.0,"hi":20.1},
{"b":16,"g":"array 1","m":20.34,"lo":18.8,"hi":21.9},
{"b":17,"g":"array 1","m":21.86,"lo":20.2,"hi":23.5},
{"b":18,"g":"array 1","m":24.91,"lo":23.4,"hi":26.8},
{"b":19,"g":"array 1","m":26.69,"lo":25.0,"hi":28.7},
{"b":20,"g":"array 1","m":29.23,"lo":27.2,"hi":31.5}
 ]},
 "encoding": {
   "x": {"field": "b", "type": "quantitative", "scale": {"domain": [0, 21.05], "nice": false, "zero": false}, "axis": {"values": [0,5,10,15,20], "title": "foraging bout"}},
   "color": {"field": "g", "type": "nominal", "scale": {"domain": ["array 1","array 2","array 3"], "range": ["#5f1f99","#fdbe63","#9a9a9a"]}, "legend": null}
 },
 "layer": [
   {"mark": {"type": "rule", "strokeWidth": 3.5, "strokeCap": "round"}, "encoding": {"y": {"field": "lo", "type": "quantitative", "scale": {"domain": [-1.42, 32.9], "nice": false, "zero": false}, "axis": {"values": [0,10,20,30], "title": "primary route usage (%)", "titlePadding": 6}}, "y2": {"field": "hi"}}},
   {"mark": {"type": "line", "strokeWidth": 3}, "encoding": {"y": {"field": "m", "type": "quantitative", "axis": {"values": [0,10,20,30], "title": "primary route usage (%)", "titlePadding": 6}}}}
 ]
},
{
 "width": 288, "height": 226,
 "view": {"stroke": null},
 "title": {"text": "f.", "anchor": "start", "frame": "group", "dx": -37, "fontSize": 17, "fontWeight": "bold", "offset": 17.5},
 "layer": [
   {
    "data": {"values": [
      {"g":"array 1","i":1,"m":0.225,"lo":0.206,"hi":0.244},
      {"g":"array 2","i":2,"m":0.127,"lo":0.115,"hi":0.140},
      {"g":"array 3","i":3,"m":0.184,"lo":0.162,"hi":0.205}]},
    "encoding": {
      "x": {"field": "i", "type": "quantitative", "scale": {"domain": [-0.204, 3.196], "nice": false, "zero": false}, "axis": {"orient": "bottom", "values": [1,2,3], "format": "d", "title": "experimental array", "titleX": 188, "titlePadding": 2, "labelPadding": 5, "domain": true, "domainColor": "#222", "labelFontSize": 11}},
      "color": {"field": "g", "type": "nominal", "scale": {"domain": ["array 1","array 2","array 3"], "range": ["#5f1f99","#fdbe63","#9a9a9a"]}, "legend": null}
    },
    "layer": [
      {"mark": {"type": "errorbar", "ticks": true, "size": 9, "thickness": 3}, "encoding": {"y": {"field": "lo", "type": "quantitative", "scale": {"domain": [0.052, 0.254], "nice": false, "zero": false}, "axis": {"values": [0.1,0.15,0.2,0.25], "format": ".2f", "title": "DET", "titleFontSize": 16, "titlePadding": 4, "domain": true, "domainColor": "#222", "labelFontSize": 11}}, "y2": {"field": "hi"}}},
      {"mark": {"type": "point", "filled": true, "size": 60, "opacity": 1}, "encoding": {"y": {"field": "m", "type": "quantitative", "axis": {"values": [0.1,0.15,0.2,0.25], "format": ".2f", "title": "DET", "titleFontSize": 16, "titlePadding": 4, "domain": true, "domainColor": "#222", "labelFontSize": 11}}}}
    ]
   },
   {
    "data": {"values": [{"g":"random","i":0,"m":0.062}]},
    "mark": {"type": "point", "filled": true, "size": 60, "opacity": 1, "color": "#333"},
    "encoding": {
      "x": {"field": "i", "type": "quantitative", "axis": {"orient": "bottom", "values": [0], "labelExpr": "'random'", "labelPadding": 17.5, "labelFontSize": 14, "title": null, "domain": false}},
      "y": {"field": "m", "type": "quantitative", "axis": {"values": [0.1,0.15,0.2,0.25], "format": ".2f", "title": "DET", "titleFontSize": 16, "titlePadding": 4, "domain": true, "domainColor": "#222", "labelFontSize": 11}}
    }
   }
 ],
 "resolve": {"axis": {"x": "independent"}}
}
],
"spacing": 11,
"resolve": {"scale": {"color": "independent"}}
}
]
}
